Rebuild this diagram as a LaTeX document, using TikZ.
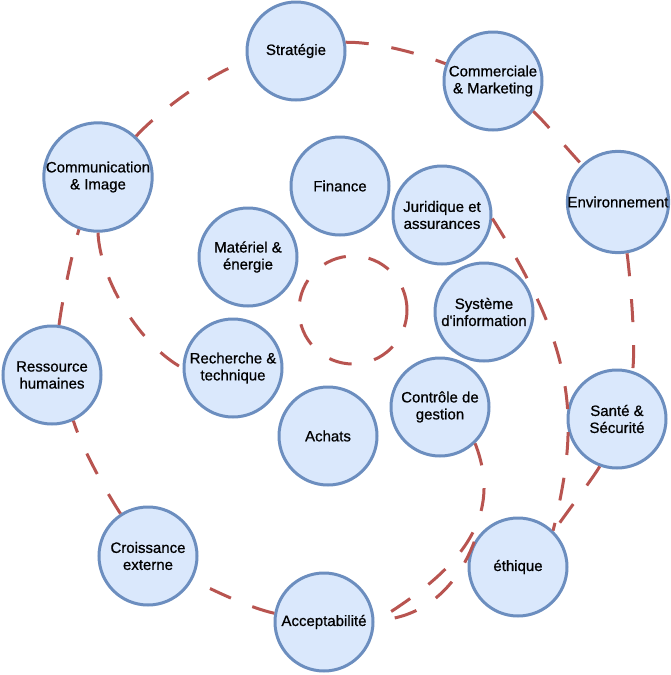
\documentclass[tikz,border=0pt]{standalone}
\usepackage{fontspec}
\setmainfont{Liberation Sans}
\newfontfamily\topicfont[FakeBold=0.7]{Liberation Sans}
\definecolor{nodeblue}{HTML}{6C8EBF}
\definecolor{nodefill}{HTML}{DAE8FC}
\definecolor{spiralred}{HTML}{B85450}
\begin{document}
\begin{tikzpicture}[x=1pt,y=-1pt,
  topic/.style={circle, draw=nodeblue, fill=nodefill, line width=3pt,
    minimum size=98pt, inner sep=0pt, align=center,
    font=\topicfont\fontsize{15}{17}\selectfont, text=black},
  spiral/.style={draw=spiralred, line width=3pt, dash pattern=on 23pt off 23pt}]
\path[use as bounding box] (0,0) rectangle (670,675);

% outer ring
\node[topic] (str) at (296,51) {Stratégie};
\node[topic] (com) at (493,81) {Commerciale\\\& Marketing};
\node[topic] (env) at (618,202) {Environnement};
\node[topic] (san) at (617,419) {Santé \&\\Sécurité};
\node[topic] (eth) at (518,567) {éthique};
\node[topic] (acc) at (324,622) {Acceptabilité};
\node[topic] (cro) at (148,556) {Croissance\\externe};
\node[topic] (res) at (52,375) {Ressource\\humaines};
\node[topic] (cmi) at (98,177) {Communication\\\& Image};

% inner ring
\node[topic] (fin) at (340,186) {Finance};
\node[topic] (jur) at (442,215) {Juridique et\\assurances};
\node[topic] (sys) at (484,312) {Système\\d\textquotesingle information};
\node[topic] (ctl) at (440,407) {Contrôle de\\gestion};
\node[topic] (ach) at (328,436) {Achats};
\node[topic] (rec) at (233,368) {Recherche \&\\technique};
\node[topic] (mat) at (248,257) {Matériel \&\\énergie};

% centre
\coordinate (ctr) at (353,310);
\draw[spiral] (ctr) circle[radius=54pt];

% outer ring connectors
\draw[spiral] (str.10) .. controls (375,42) and (415,52) .. (com.160);
\draw[spiral] (com.-37) .. controls (545,122) and (568,150) .. (env.134);
\draw[spiral] (env.-80) .. controls (630,275) and (636,345) .. (san.72);
\draw[spiral] (san.-110) .. controls (593,478) and (567,512) .. (eth.45);
\draw[spiral] (eth.150) .. controls (450,605) and (405,620) .. (acc.2);
\draw[spiral] (acc.170) .. controls (250,608) and (212,590) .. (cro.-28);
\draw[spiral] (cro.123) .. controls (105,490) and (82,448) .. (res.-65);
\draw[spiral] (res.82) .. controls (63,295) and (73,250) .. (cmi.-110);
\draw[spiral] (cmi.47) .. controls (160,110) and (215,70) .. (str.192);

% spiral arms
\draw[spiral] (cmi.south) .. controls (100,280) and (140,345) .. (rec.west);
\draw[spiral] (jur.-4) .. controls (578.4,354.1) and (579.3,422.6) .. (eth.46);
\draw[spiral] (ctl.-46) .. controls (506.4,523.6) and (451.2,575.1) .. (acc.east);
\end{tikzpicture}
\end{document}
